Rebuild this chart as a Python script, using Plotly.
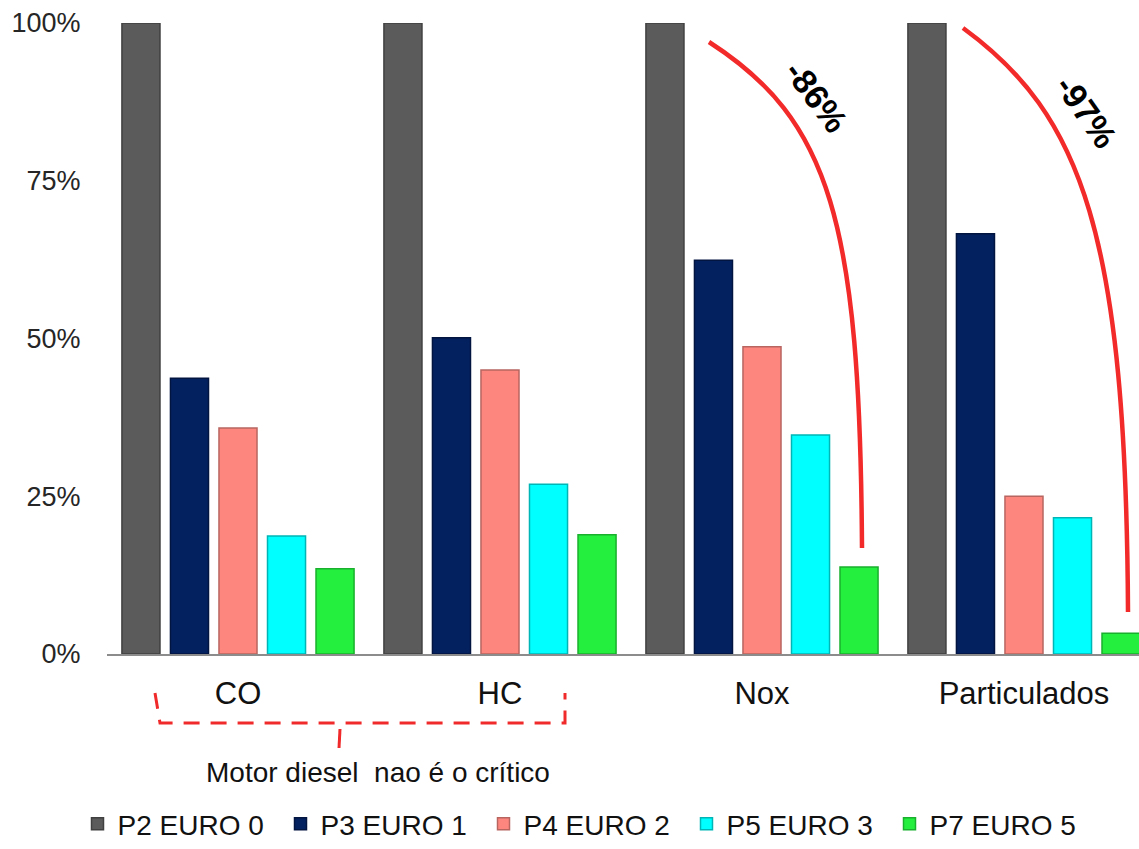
import plotly.graph_objects as go

categories = ["CO", "HC", "Nox", "Particulados"]
series_names = ["P2 EURO 0", "P3 EURO 1", "P4 EURO 2", "P5 EURO 3", "P7 EURO 5"]
p2_euro0 = [100, 100, 100, 100]
p3_euro1 = [43.7, 50.1, 62.4, 66.6]
p4_euro2 = [35.8, 45.0, 48.7, 25.0]
p5_euro3 = [18.7, 26.9, 34.7, 21.6]
p7_euro5 = [13.5, 18.9, 13.8, 3.3]
y_tickvals = [0, 25, 50, 75, 100]
y_ticktext = ["0%", "25%", "50%", "75%", "100%"]
reductions = ["-86%", "-97%"]
note_text = "Motor diesel\u00a0 nao é o crítico"

values = [p2_euro0, p3_euro1, p4_euro2, p5_euro3, p7_euro5]
fills = ["#5b5b5b", "#04215f", "#fd877f", "#00ffff", "#25ef3e"]
edges = ["#404040", "#021540", "#b86560", "#00b5b5", "#18b02c"]

W, H = 1139, 849
L, R, T, B = 107, 0, 23, 195
FONT = "Liberation Sans, Arial, sans-serif"

fig = go.Figure()
for name, vals, c, e in zip(series_names, values, fills, edges):
    fig.add_trace(go.Bar(x=categories, y=vals, name=name,
                         marker=dict(color=c, line=dict(color=e, width=1.5))))

# pixel -> paper helpers (plot area is fixed by margins)
pw, ph = W - L - R, H - T - B
def px(x):
    return (x - L) / pw
def py(y):
    return (H - B - y) / ph

def curve(p0, p1, p2, p3):
    return "M {} {} C {} {}, {} {}, {} {}".format(
        px(p0[0]), py(p0[1]), px(p1[0]), py(p1[1]),
        px(p2[0]), py(p2[1]), px(p3[0]), py(p3[1]))

shapes = [
    dict(type="path", xref="paper", yref="paper",
         path=curve((709, 42), (830, 120), (860, 220), (862, 548)),
         line=dict(color="#f22a2a", width=4.5)),
    dict(type="path", xref="paper", yref="paper",
         path=curve((963, 28), (1082, 115), (1126, 234), (1128, 612)),
         line=dict(color="#f22a2a", width=4.5)),
    dict(type="path", xref="paper", yref="paper",
         path="M {} {} L {} {} L {} {} L {} {}".format(
             px(155), py(693), px(160), py(723), px(565), py(723), px(565), py(693)),
         line=dict(color="#f02a2a", width=3, dash="16px,11px")),
    dict(type="line", xref="paper", yref="paper",
         x0=px(340), y0=py(729), x1=px(339), y1=py(748),
         line=dict(color="#f02a2a", width=3)),
]

annotations = [
    dict(text="<b>%s</b>" % reductions[0], xref="paper", yref="paper",
         x=px(816), y=py(96), xanchor="center", yanchor="middle",
         showarrow=False, textangle=53,
         font=dict(family=FONT, size=34, color="#000000")),
    dict(text="<b>%s</b>" % reductions[1], xref="paper", yref="paper",
         x=px(1086), y=py(111), xanchor="center", yanchor="middle",
         showarrow=False, textangle=55,
         font=dict(family=FONT, size=34, color="#000000")),
    dict(text=note_text, xref="paper", yref="paper",
         x=px(378), y=py(772), xanchor="center", yanchor="middle",
         showarrow=False,
         font=dict(family=FONT, size=28, color="#111111")),
]

fig.update_layout(
    width=W, height=H,
    margin=dict(l=L, r=R, t=T, b=B, pad=0, autoexpand=False),
    paper_bgcolor="white", plot_bgcolor="white",
    barmode="group", bargap=0.074, bargroupgap=0.216,
    font=dict(family=FONT, size=28, color="#111111"),
    shapes=shapes, annotations=annotations,
    showlegend=True,
    legend=dict(orientation="h", x=px(585), xanchor="center",
                y=py(849), yanchor="bottom",
                font=dict(family=FONT, size=28, color="#111111"),
                itemwidth=30, entrywidth=158, traceorder="normal"),
)
fig.update_xaxes(type="category", range=[-0.5, 3.439], showgrid=False,
                 showline=True, linecolor="#8c8c8c", linewidth=2,
                 ticks="outside", ticklen=11, tickcolor="rgba(0,0,0,0)",
                 tickfont=dict(family=FONT, size=31, color="#111111"))
fig.update_yaxes(range=[0, 100], tickvals=y_tickvals, ticktext=y_ticktext,
                 showgrid=False, zeroline=False, showline=False,
                 ticks="outside", ticklen=20, tickcolor="rgba(0,0,0,0)",
                 tickfont=dict(family=FONT, size=27, color="#262626"))

fig.write_html("out.html")
